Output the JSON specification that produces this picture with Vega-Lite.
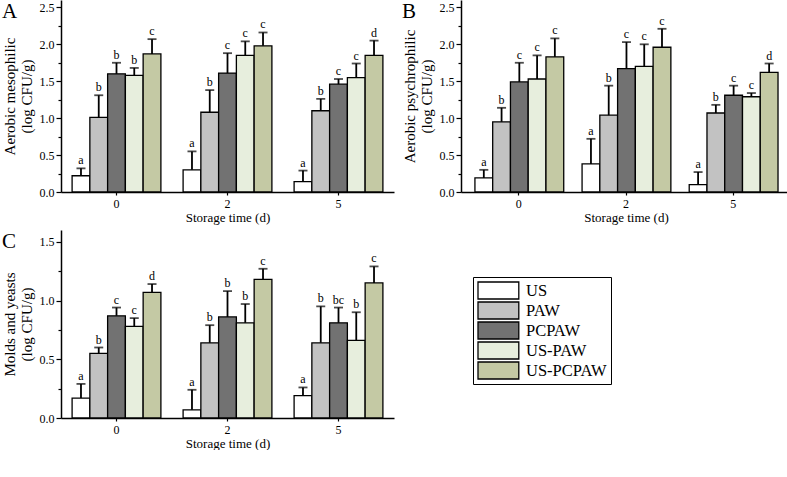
{
  "$schema": "https://vega.github.io/schema/vega-lite/v6.json",
  "background": "white",
  "padding": {"left": 2, "top": 0, "right": 0, "bottom": 0},
  "config": {
    "view": {"stroke": null},
    "font": "Liberation Serif",
    "axis": {
      "labelFont": "Liberation Serif", "labelColor": "black", "labelFontSize": 12,
      "titleFont": "Liberation Serif", "titleColor": "black", "titleFontSize": 13, "titleFontWeight": "normal",
      "domainColor": "black", "domainWidth": 1.5, "tickColor": "black", "tickWidth": 1.2, "grid": false, "labelOverlap": false
    },
    "axisY": {"labelOverlap": false, "titleFontSize": 15, "titlePadding": 5, "titleLineHeight": 17},
    "axisX": {"labelFontSize": 12, "labelPadding": 3, "titlePadding": 2, "tickSize": 3, "titleFontSize": 13},
    "text": {"color": "black"},
    "title": {"font": "Liberation Serif", "fontSize": 21, "fontWeight": "normal", "color": "black"},
    "legend": {"labelFont": "Liberation Serif", "labelColor": "black"}
  },
  "data": {"values": [
    {"panel": "A", "day": "0", "treatment": "US", "mean": 0.22, "top": 0.32, "letter": "a"},
    {"panel": "A", "day": "0", "treatment": "PAW", "mean": 1.01, "top": 1.31, "letter": "b"},
    {"panel": "A", "day": "0", "treatment": "PCPAW", "mean": 1.60, "top": 1.75, "letter": "b"},
    {"panel": "A", "day": "0", "treatment": "US-PAW", "mean": 1.58, "top": 1.68, "letter": "b"},
    {"panel": "A", "day": "0", "treatment": "US-PCPAW", "mean": 1.87, "top": 2.07, "letter": "c"},
    {"panel": "A", "day": "2", "treatment": "US", "mean": 0.30, "top": 0.55, "letter": "a"},
    {"panel": "A", "day": "2", "treatment": "PAW", "mean": 1.08, "top": 1.38, "letter": "b"},
    {"panel": "A", "day": "2", "treatment": "PCPAW", "mean": 1.61, "top": 1.88, "letter": "c"},
    {"panel": "A", "day": "2", "treatment": "US-PAW", "mean": 1.85, "top": 2.04, "letter": "c"},
    {"panel": "A", "day": "2", "treatment": "US-PCPAW", "mean": 1.98, "top": 2.16, "letter": "c"},
    {"panel": "A", "day": "5", "treatment": "US", "mean": 0.14, "top": 0.29, "letter": "a"},
    {"panel": "A", "day": "5", "treatment": "PAW", "mean": 1.10, "top": 1.26, "letter": "b"},
    {"panel": "A", "day": "5", "treatment": "PCPAW", "mean": 1.46, "top": 1.53, "letter": "c"},
    {"panel": "A", "day": "5", "treatment": "US-PAW", "mean": 1.55, "top": 1.74, "letter": "c"},
    {"panel": "A", "day": "5", "treatment": "US-PCPAW", "mean": 1.85, "top": 2.05, "letter": "d"},
    {"panel": "B", "day": "0", "treatment": "US", "mean": 0.19, "top": 0.30, "letter": "a"},
    {"panel": "B", "day": "0", "treatment": "PAW", "mean": 0.95, "top": 1.14, "letter": "b"},
    {"panel": "B", "day": "0", "treatment": "PCPAW", "mean": 1.49, "top": 1.75, "letter": "c"},
    {"panel": "B", "day": "0", "treatment": "US-PAW", "mean": 1.53, "top": 1.85, "letter": "c"},
    {"panel": "B", "day": "0", "treatment": "US-PCPAW", "mean": 1.83, "top": 2.08, "letter": "c"},
    {"panel": "B", "day": "2", "treatment": "US", "mean": 0.38, "top": 0.72, "letter": "a"},
    {"panel": "B", "day": "2", "treatment": "PAW", "mean": 1.04, "top": 1.44, "letter": "b"},
    {"panel": "B", "day": "2", "treatment": "PCPAW", "mean": 1.67, "top": 2.03, "letter": "c"},
    {"panel": "B", "day": "2", "treatment": "US-PAW", "mean": 1.70, "top": 2.00, "letter": "c"},
    {"panel": "B", "day": "2", "treatment": "US-PCPAW", "mean": 1.96, "top": 2.21, "letter": "c"},
    {"panel": "B", "day": "5", "treatment": "US", "mean": 0.10, "top": 0.27, "letter": "a"},
    {"panel": "B", "day": "5", "treatment": "PAW", "mean": 1.07, "top": 1.18, "letter": "b"},
    {"panel": "B", "day": "5", "treatment": "PCPAW", "mean": 1.31, "top": 1.44, "letter": "c"},
    {"panel": "B", "day": "5", "treatment": "US-PAW", "mean": 1.29, "top": 1.34, "letter": "c"},
    {"panel": "B", "day": "5", "treatment": "US-PCPAW", "mean": 1.62, "top": 1.74, "letter": "d"},
    {"panel": "C", "day": "0", "treatment": "US", "mean": 0.17, "top": 0.29, "letter": "a"},
    {"panel": "C", "day": "0", "treatment": "PAW", "mean": 0.55, "top": 0.60, "letter": "b"},
    {"panel": "C", "day": "0", "treatment": "PCPAW", "mean": 0.87, "top": 0.94, "letter": "c"},
    {"panel": "C", "day": "0", "treatment": "US-PAW", "mean": 0.78, "top": 0.85, "letter": "c"},
    {"panel": "C", "day": "0", "treatment": "US-PCPAW", "mean": 1.07, "top": 1.14, "letter": "d"},
    {"panel": "C", "day": "2", "treatment": "US", "mean": 0.07, "top": 0.24, "letter": "a"},
    {"panel": "C", "day": "2", "treatment": "PAW", "mean": 0.64, "top": 0.79, "letter": "b"},
    {"panel": "C", "day": "2", "treatment": "PCPAW", "mean": 0.86, "top": 1.08, "letter": "b"},
    {"panel": "C", "day": "2", "treatment": "US-PAW", "mean": 0.81, "top": 0.97, "letter": "b"},
    {"panel": "C", "day": "2", "treatment": "US-PCPAW", "mean": 1.18, "top": 1.27, "letter": "c"},
    {"panel": "C", "day": "5", "treatment": "US", "mean": 0.19, "top": 0.26, "letter": "a"},
    {"panel": "C", "day": "5", "treatment": "PAW", "mean": 0.64, "top": 0.95, "letter": "b"},
    {"panel": "C", "day": "5", "treatment": "PCPAW", "mean": 0.81, "top": 0.94, "letter": "bc"},
    {"panel": "C", "day": "5", "treatment": "US-PAW", "mean": 0.66, "top": 0.90, "letter": "b"},
    {"panel": "C", "day": "5", "treatment": "US-PCPAW", "mean": 1.15, "top": 1.29, "letter": "c"}
  ]},
  "vconcat": [
    {
      "hconcat": [
        {
          "width": 333, "height": 192,
          "title": {"text": "A", "anchor": "start", "frame": "bounds", "offset": -22},
          "transform": [{"filter": "datum.panel === 'A'"}],
          "encoding": {
            "x": {"field": "day", "type": "nominal", "scale": {"paddingInner": 0.2, "paddingOuter": 0.1},
                  "axis": {"title": "Storage time (d)", "labelAngle": 0}},
            "xOffset": {"field": "treatment", "sort": ["US", "PAW", "PCPAW", "US-PAW", "US-PCPAW"], "scale": {"paddingInner": 0, "paddingOuter": 0}}
          },
          "layer": [
            {"mark": {"type": "bar", "stroke": "black", "strokeWidth": 1.3},
             "encoding": {
               "y": {"field": "mean", "type": "quantitative", "scale": {"domain": [0, 2.5]},
                     "axis": {"title": ["Aerobic mesophilic", "(log CFU/g)"], "values": [0, 0.25, 0.5, 0.75, 1, 1.25, 1.5, 1.75, 2, 2.25, 2.5],
                              "labelExpr": "indexof([0, 0.5, 1, 1.5, 2, 2.5], datum.value) >= 0 ? format(datum.value, '.1f') : ''",
                              "tickSize": {"condition": {"test": "indexof([0, 0.5, 1, 1.5, 2, 2.5], datum.value) >= 0", "value": 5}, "value": 3}}},
               "color": {"field": "treatment", "type": "nominal",
                         "scale": {"domain": ["US", "PAW", "PCPAW", "US-PAW", "US-PCPAW"], "range": ["#ffffff", "#c2c2c2", "#727272", "#e7eedd", "#c4c9a4"]}}
             }},
            {"mark": {"type": "rule", "color": "black", "strokeWidth": 1.8},
             "encoding": {"y": {"field": "mean", "type": "quantitative",
                     "axis": {"title": ["Aerobic mesophilic", "(log CFU/g)"], "values": [0, 0.25, 0.5, 0.75, 1, 1.25, 1.5, 1.75, 2, 2.25, 2.5],
                              "labelExpr": "indexof([0, 0.5, 1, 1.5, 2, 2.5], datum.value) >= 0 ? format(datum.value, '.1f') : ''",
                              "tickSize": {"condition": {"test": "indexof([0, 0.5, 1, 1.5, 2, 2.5], datum.value) >= 0", "value": 5}, "value": 3}}},
                          "y2": {"field": "top"}}},
            {"mark": {"type": "tick", "color": "black", "thickness": 1.8, "size": 9},
             "encoding": {"y": {"field": "top", "type": "quantitative",
                     "axis": {"title": ["Aerobic mesophilic", "(log CFU/g)"], "values": [0, 0.25, 0.5, 0.75, 1, 1.25, 1.5, 1.75, 2, 2.25, 2.5],
                              "labelExpr": "indexof([0, 0.5, 1, 1.5, 2, 2.5], datum.value) >= 0 ? format(datum.value, '.1f') : ''",
                              "tickSize": {"condition": {"test": "indexof([0, 0.5, 1, 1.5, 2, 2.5], datum.value) >= 0", "value": 5}, "value": 3}}}}},
            {"mark": {"type": "text", "baseline": "bottom", "dy": -1, "fontSize": 12, "font": "Liberation Serif", "fill": "black", "color": "black"},
             "encoding": {"y": {"field": "top", "type": "quantitative",
                     "axis": {"title": ["Aerobic mesophilic", "(log CFU/g)"], "values": [0, 0.25, 0.5, 0.75, 1, 1.25, 1.5, 1.75, 2, 2.25, 2.5],
                              "labelExpr": "indexof([0, 0.5, 1, 1.5, 2, 2.5], datum.value) >= 0 ? format(datum.value, '.1f') : ''",
                              "tickSize": {"condition": {"test": "indexof([0, 0.5, 1, 1.5, 2, 2.5], datum.value) >= 0", "value": 5}, "value": 3}}},
                          "text": {"field": "letter"}}}
          ]
        },
        {
          "width": 330, "height": 192,
          "title": {"text": "B", "anchor": "start", "frame": "bounds", "offset": -22},
          "transform": [{"filter": "datum.panel === 'B'"}],
          "encoding": {
            "x": {"field": "day", "type": "nominal", "scale": {"paddingInner": 0.18, "paddingOuter": 0.13},
                  "axis": {"title": "Storage time (d)", "labelAngle": 0}},
            "xOffset": {"field": "treatment", "sort": ["US", "PAW", "PCPAW", "US-PAW", "US-PCPAW"], "scale": {"paddingInner": 0, "paddingOuter": 0}}
          },
          "layer": [
            {"mark": {"type": "bar", "stroke": "black", "strokeWidth": 1.3},
             "encoding": {
               "y": {"field": "mean", "type": "quantitative", "scale": {"domain": [0, 2.5]},
                     "axis": {"title": ["Aerobic psychrophilic", "(log CFU/g)"], "values": [0, 0.25, 0.5, 0.75, 1, 1.25, 1.5, 1.75, 2, 2.25, 2.5],
                              "labelExpr": "indexof([0, 0.5, 1, 1.5, 2, 2.5], datum.value) >= 0 ? format(datum.value, '.1f') : ''",
                              "tickSize": {"condition": {"test": "indexof([0, 0.5, 1, 1.5, 2, 2.5], datum.value) >= 0", "value": 5}, "value": 3}}},
               "color": {"field": "treatment", "type": "nominal",
                         "scale": {"domain": ["US", "PAW", "PCPAW", "US-PAW", "US-PCPAW"], "range": ["#ffffff", "#c2c2c2", "#727272", "#e7eedd", "#c4c9a4"]}}
             }},
            {"mark": {"type": "rule", "color": "black", "strokeWidth": 1.8},
             "encoding": {"y": {"field": "mean", "type": "quantitative",
                     "axis": {"title": ["Aerobic psychrophilic", "(log CFU/g)"], "values": [0, 0.25, 0.5, 0.75, 1, 1.25, 1.5, 1.75, 2, 2.25, 2.5],
                              "labelExpr": "indexof([0, 0.5, 1, 1.5, 2, 2.5], datum.value) >= 0 ? format(datum.value, '.1f') : ''",
                              "tickSize": {"condition": {"test": "indexof([0, 0.5, 1, 1.5, 2, 2.5], datum.value) >= 0", "value": 5}, "value": 3}}},
                          "y2": {"field": "top"}}},
            {"mark": {"type": "tick", "color": "black", "thickness": 1.8, "size": 9},
             "encoding": {"y": {"field": "top", "type": "quantitative",
                     "axis": {"title": ["Aerobic psychrophilic", "(log CFU/g)"], "values": [0, 0.25, 0.5, 0.75, 1, 1.25, 1.5, 1.75, 2, 2.25, 2.5],
                              "labelExpr": "indexof([0, 0.5, 1, 1.5, 2, 2.5], datum.value) >= 0 ? format(datum.value, '.1f') : ''",
                              "tickSize": {"condition": {"test": "indexof([0, 0.5, 1, 1.5, 2, 2.5], datum.value) >= 0", "value": 5}, "value": 3}}}}},
            {"mark": {"type": "text", "baseline": "bottom", "dy": -1, "fontSize": 12, "font": "Liberation Serif", "fill": "black", "color": "black"},
             "encoding": {"y": {"field": "top", "type": "quantitative",
                     "axis": {"title": ["Aerobic psychrophilic", "(log CFU/g)"], "values": [0, 0.25, 0.5, 0.75, 1, 1.25, 1.5, 1.75, 2, 2.25, 2.5],
                              "labelExpr": "indexof([0, 0.5, 1, 1.5, 2, 2.5], datum.value) >= 0 ? format(datum.value, '.1f') : ''",
                              "tickSize": {"condition": {"test": "indexof([0, 0.5, 1, 1.5, 2, 2.5], datum.value) >= 0", "value": 5}, "value": 3}}},
                          "text": {"field": "letter"}}}
          ]
        }
      ],
      "spacing": 8
    },
    {
      "width": 333, "height": 188,
      "title": {"text": "C", "anchor": "start", "frame": "bounds", "offset": -22},
      "transform": [{"filter": "datum.panel === 'C'"}],
      "encoding": {
        "x": {"field": "day", "type": "nominal", "scale": {"paddingInner": 0.2, "paddingOuter": 0.1},
              "axis": {"title": "Storage time (d)", "labelAngle": 0}},
        "xOffset": {"field": "treatment", "sort": ["US", "PAW", "PCPAW", "US-PAW", "US-PCPAW"], "scale": {"paddingInner": 0, "paddingOuter": 0}}
      },
      "layer": [
        {"mark": {"type": "bar", "stroke": "black", "strokeWidth": 1.3},
         "encoding": {
           "y": {"field": "mean", "type": "quantitative", "scale": {"domain": [0, 1.5]},
                 "axis": {"title": ["Molds and yeasts", "(log CFU/g)"], "values": [0, 0.25, 0.5, 0.75, 1, 1.25, 1.5],
                          "labelExpr": "indexof([0, 0.5, 1, 1.5], datum.value) >= 0 ? format(datum.value, '.1f') : ''",
                          "tickSize": {"condition": {"test": "indexof([0, 0.5, 1, 1.5], datum.value) >= 0", "value": 5}, "value": 3}}},
           "color": {"field": "treatment", "type": "nominal",
                     "scale": {"domain": ["US", "PAW", "PCPAW", "US-PAW", "US-PCPAW"], "range": ["#ffffff", "#c2c2c2", "#727272", "#e7eedd", "#c4c9a4"]},
                     "legend": {"title": null, "orient": "none", "legendX": 412, "legendY": 277,
                                "symbolType": "M-1,-1H3.8V1H-1Z", "symbolSize": 289, "symbolStrokeColor": "black", "symbolStrokeWidth": 1.3,
                                "labelFontSize": 16.5, "labelOffset": 30, "rowPadding": 1, "clipHeight": 19, "padding": 4,
                                "strokeColor": "black", "fillColor": "white"}}
         }},
        {"mark": {"type": "rule", "color": "black", "strokeWidth": 1.8},
         "encoding": {"y": {"field": "mean", "type": "quantitative",
                 "axis": {"title": ["Molds and yeasts", "(log CFU/g)"], "values": [0, 0.25, 0.5, 0.75, 1, 1.25, 1.5],
                          "labelExpr": "indexof([0, 0.5, 1, 1.5], datum.value) >= 0 ? format(datum.value, '.1f') : ''",
                          "tickSize": {"condition": {"test": "indexof([0, 0.5, 1, 1.5], datum.value) >= 0", "value": 5}, "value": 3}}},
                      "y2": {"field": "top"}}},
        {"mark": {"type": "tick", "color": "black", "thickness": 1.8, "size": 9},
         "encoding": {"y": {"field": "top", "type": "quantitative",
                 "axis": {"title": ["Molds and yeasts", "(log CFU/g)"], "values": [0, 0.25, 0.5, 0.75, 1, 1.25, 1.5],
                          "labelExpr": "indexof([0, 0.5, 1, 1.5], datum.value) >= 0 ? format(datum.value, '.1f') : ''",
                          "tickSize": {"condition": {"test": "indexof([0, 0.5, 1, 1.5], datum.value) >= 0", "value": 5}, "value": 3}}}}},
        {"mark": {"type": "text", "baseline": "bottom", "dy": -1, "fontSize": 12, "font": "Liberation Serif", "fill": "black", "color": "black"},
         "encoding": {"y": {"field": "top", "type": "quantitative",
                 "axis": {"title": ["Molds and yeasts", "(log CFU/g)"], "values": [0, 0.25, 0.5, 0.75, 1, 1.25, 1.5],
                          "labelExpr": "indexof([0, 0.5, 1, 1.5], datum.value) >= 0 ? format(datum.value, '.1f') : ''",
                          "tickSize": {"condition": {"test": "indexof([0, 0.5, 1, 1.5], datum.value) >= 0", "value": 5}, "value": 3}}},
                      "text": {"field": "letter"}}}
      ]
    }
  ],
  "spacing": 6
}
